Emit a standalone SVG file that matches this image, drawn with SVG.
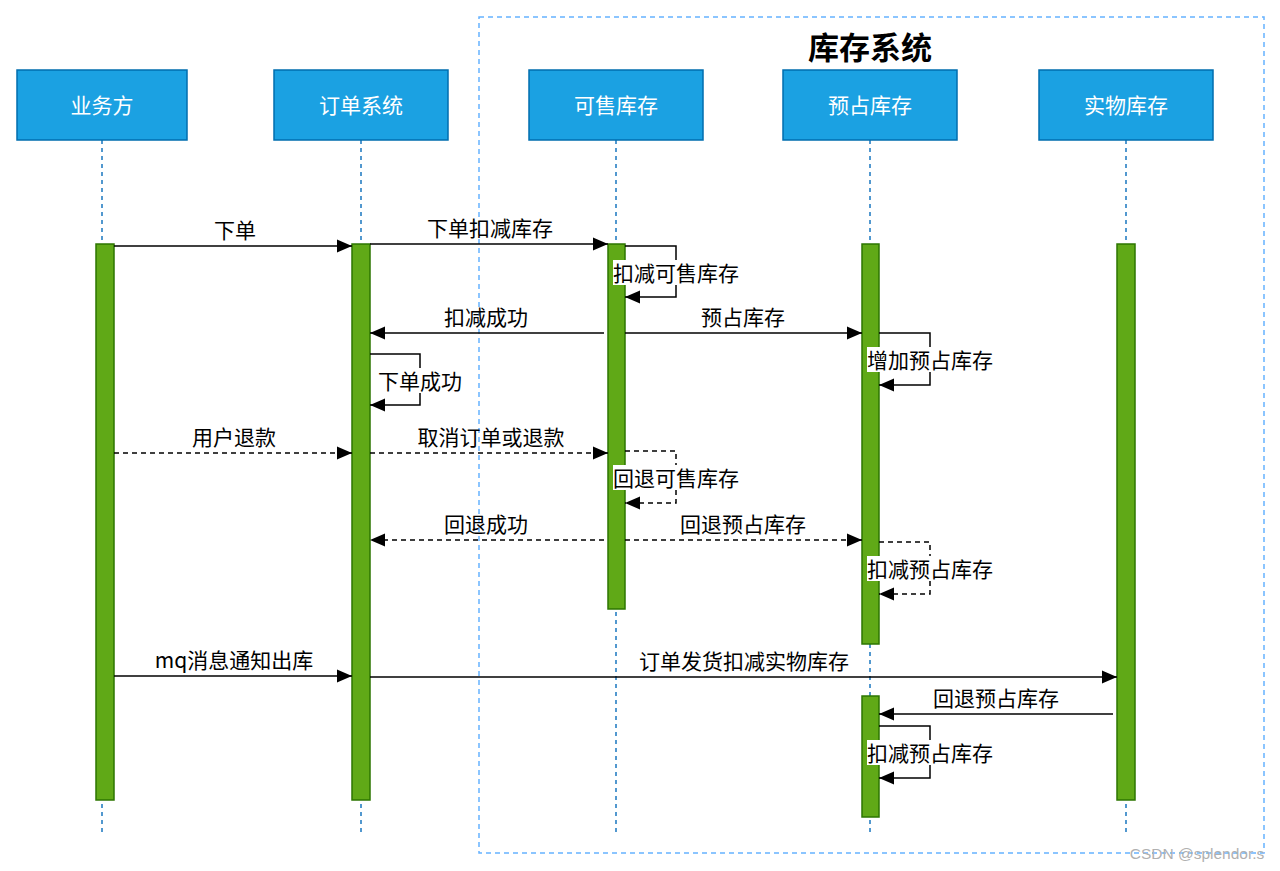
<svg xmlns="http://www.w3.org/2000/svg" width="1280" height="871" viewBox="0 0 1280 871">
<defs>
<style>
text{font-family:"Noto Sans CJK SC","Liberation Sans",sans-serif;dominant-baseline:central;text-anchor:middle}
.box{fill:#1ba1e2;stroke:#006eaf;stroke-width:1.5}
.bt{fill:#ffffff;font-size:21px}
.life{stroke:#1a77c0;stroke-width:1.5;stroke-dasharray:4 4;fill:none}
.act{fill:#60a917;stroke:#2d7600;stroke-width:1.5}
.msg{stroke:#000;stroke-width:1.5;fill:none;marker-end:url(#arr)}
.dash{stroke-dasharray:5 4}
.lbl{fill:#000;font-size:21px}
.bg{fill:#fff}
</style>
<marker id="arr" markerUnits="userSpaceOnUse" markerWidth="17" markerHeight="15" viewBox="0 0 17 15" refX="16" refY="7.5" orient="auto">
<path d="M1,1 L16,7.5 L1,14 Z" fill="#000"/>
</marker>
</defs>
<rect width="1280" height="871" fill="#fff"/>

<g id="group-inventory">
<rect x="479" y="17" width="785" height="836" fill="none" stroke="#66b2ff" stroke-width="1.5" stroke-dasharray="5 4"/>
<text x="870" y="45" style="font-size:31px;font-weight:bold">库存系统</text>
</g>

<g id="lifelines">
<line class="life" x1="102" y1="140" x2="102" y2="835"/>
<line class="life" x1="361" y1="140" x2="361" y2="835"/>
<line class="life" x1="616" y1="140" x2="616" y2="835"/>
<line class="life" x1="870" y1="140" x2="870" y2="835"/>
<line class="life" x1="1126" y1="140" x2="1126" y2="835"/>
</g>

<g id="node-yewufang">
<rect class="box" x="17" y="70" width="170" height="70"/>
<text class="bt" x="102" y="104">业务方</text>
<rect class="act" x="96" y="244" width="18" height="556"/>
</g>
<g id="node-dingdan">
<rect class="box" x="274" y="70" width="174" height="70"/>
<text class="bt" x="361" y="104">订单系统</text>
<rect class="act" x="352" y="244" width="18" height="556"/>
</g>
<g id="node-keshou">
<rect class="box" x="529" y="70" width="174" height="70"/>
<text class="bt" x="616" y="104">可售库存</text>
<rect class="act" x="608" y="244" width="17" height="365"/>
</g>
<g id="node-yuzhan">
<rect class="box" x="783" y="70" width="174" height="70"/>
<text class="bt" x="870" y="104">预占库存</text>
<rect class="act" x="862" y="244" width="17" height="400"/>
<rect class="act" x="862" y="696" width="17" height="121"/>
</g>
<g id="node-shiwu">
<rect class="box" x="1039" y="70" width="174" height="70"/>
<text class="bt" x="1126" y="104">实物库存</text>
<rect class="act" x="1117" y="244" width="18" height="556"/>
</g>

<g id="connectors">
<line class="msg" x1="114" y1="246" x2="352" y2="246"/>
<text class="lbl" x="235" y="229">下单</text>

<line class="msg" x1="370" y1="244" x2="608" y2="244"/>
<text class="lbl" x="490" y="227">下单扣减库存</text>

<path class="msg" d="M625,246 H676 V297 H625"/>
<rect class="bg" x="613" y="260" width="126" height="25"/>
<text class="lbl" x="676" y="272">扣减可售库存</text>

<line class="msg" x1="604" y1="333" x2="370" y2="333"/>
<text class="lbl" x="486" y="316">扣减成功</text>

<line class="msg" x1="625" y1="333" x2="862" y2="333"/>
<text class="lbl" x="743" y="316">预占库存</text>

<path class="msg" d="M879,333 H930 V385 H879"/>
<rect class="bg" x="867" y="347" width="126" height="25"/>
<text class="lbl" x="930" y="359">增加预占库存</text>

<path class="msg" d="M370,354 H420 V405 H370"/>
<rect class="bg" x="378" y="368" width="84" height="25"/>
<text class="lbl" x="420" y="380">下单成功</text>

<line class="msg dash" x1="114" y1="453" x2="352" y2="453"/>
<text class="lbl" x="234" y="436">用户退款</text>

<line class="msg dash" x1="370" y1="453" x2="608" y2="453"/>
<text class="lbl" x="491" y="436">取消订单或退款</text>

<path class="msg dash" d="M625,451 H676 V503 H625"/>
<rect class="bg" x="613" y="465" width="126" height="25"/>
<text class="lbl" x="676" y="477">回退可售库存</text>

<line class="msg dash" x1="604" y1="540" x2="370" y2="540"/>
<text class="lbl" x="486" y="523">回退成功</text>

<line class="msg dash" x1="625" y1="540" x2="862" y2="540"/>
<text class="lbl" x="743" y="523">回退预占库存</text>

<path class="msg dash" d="M879,542 H930 V594 H879"/>
<rect class="bg" x="867" y="556" width="126" height="25"/>
<text class="lbl" x="930" y="568">扣减预占库存</text>

<line class="msg" x1="114" y1="676" x2="352" y2="676"/>
<text class="lbl" x="234" y="659">mq消息通知出库</text>

<line class="msg" x1="370" y1="677" x2="1117" y2="677"/>
<text class="lbl" x="744" y="660">订单发货扣减实物库存</text>

<line class="msg" x1="1113" y1="714" x2="879" y2="714"/>
<text class="lbl" x="996" y="697">回退预占库存</text>

<path class="msg" d="M879,726 H930 V778 H879"/>
<rect class="bg" x="867" y="740" width="126" height="25"/>
<text class="lbl" x="930" y="752">扣减预占库存</text>
</g>

<text x="1197" y="853" style="font-family:'Liberation Sans',sans-serif;font-size:15.5px;fill:#b0b0b0">CSDN @splendor.s</text>
</svg>
